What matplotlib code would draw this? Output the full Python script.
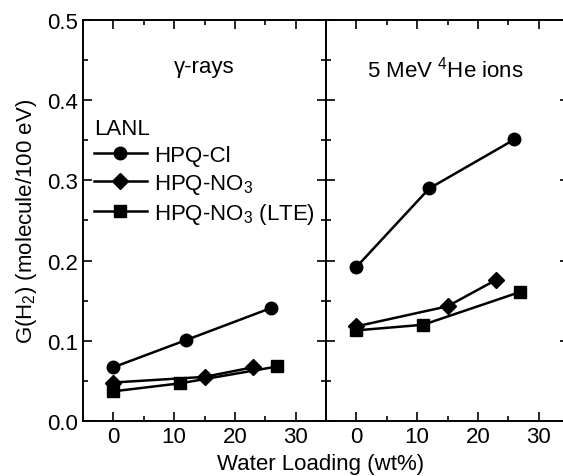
import matplotlib
matplotlib.use("Agg")
import matplotlib.pyplot as plt
from matplotlib.ticker import MultipleLocator

plt.rcParams['font.family'] = ['Liberation Sans', 'DejaVu Sans']
plt.rcParams['mathtext.fontset'] = 'custom'
plt.rcParams['mathtext.rm'] = 'Liberation Sans'

# water loading (wt%) and G(H2) values
gamma_cl_x = [0, 12, 26]
gamma_cl_y = [0.067, 0.101, 0.141]
gamma_no3_x = [0, 15, 23]
gamma_no3_y = [0.048, 0.055, 0.067]
gamma_lte_x = [0, 11, 27]
gamma_lte_y = [0.037, 0.047, 0.068]

he_cl_x = [0, 12, 26]
he_cl_y = [0.192, 0.290, 0.351]
he_no3_x = [0, 15, 23]
he_no3_y = [0.118, 0.143, 0.176]
he_lte_x = [0, 11, 27]
he_lte_y = [0.113, 0.120, 0.161]

fs = 16

fig = plt.figure(figsize=(5.63, 4.77), dpi=100)
W, H = 563, 477
ax1 = fig.add_axes([83 / W, 1 - 422 / H, (326 - 83) / W, (422 - 21) / H])
ax2 = fig.add_axes([326 / W, 1 - 422 / H, (569 - 326) / W, (422 - 21) / H])

style = dict(color='black', lw=1.8, markersize=9)

ax1.plot(gamma_cl_x, gamma_cl_y, marker='o', label='HPQ-Cl', **style)
ax1.plot(gamma_no3_x, gamma_no3_y, marker='D', label='HPQ-NO$_3$', **dict(style, markersize=8))
ax1.plot(gamma_lte_x, gamma_lte_y, marker='s', label='HPQ-NO$_3$ (LTE)', **style)

ax2.plot(he_cl_x, he_cl_y, marker='o', **style)
ax2.plot(he_no3_x, he_no3_y, marker='D', **dict(style, markersize=8))
ax2.plot(he_lte_x, he_lte_y, marker='s', **style)

for ax in (ax1, ax2):
    ax.set_xlim(-5, 35)
    ax.set_ylim(0, 0.5)
    ax.xaxis.set_major_locator(MultipleLocator(10))
    ax.xaxis.set_minor_locator(MultipleLocator(5))
    ax.yaxis.set_major_locator(MultipleLocator(0.1))
    ax.yaxis.set_minor_locator(MultipleLocator(0.05))
    ax.tick_params(which='both', direction='in', top=True, right=True, width=1.2, labelsize=fs)
    ax.tick_params(which='major', length=6.5)
    ax.tick_params(which='minor', length=3.5)
    for sp in ax.spines.values():
        sp.set_linewidth(1.4)

ax1.set_xticks([0, 10, 20, 30])
ax2.set_xticks([0, 10, 20, 30])
ax1.yaxis.set_major_formatter(plt.FormatStrFormatter('%.1f'))
ax2.tick_params(labelleft=False)

ax1.text(0.5, 0.885, '\u03b3-rays', transform=ax1.transAxes, ha='center', va='center', fontsize=fs)
ax2.text(0.49, 0.88, r'5 MeV $^{4}$He ions', transform=ax2.transAxes, ha='center', va='center', fontsize=fs)

leg = ax1.legend(loc='upper left', bbox_to_anchor=(0.035, 0.76), frameon=False, fontsize=fs,
                 title='LANL', title_fontsize=fs, handlelength=2.4, handletextpad=0.3,
                 labelspacing=0.25, borderpad=0.1, borderaxespad=0.0)
leg._legend_box.align = 'left'

ax1.set_ylabel('G(H$_2$) (molecule/100 eV)', fontsize=fs, labelpad=6)
fig.text(321 / W, 1 - 465 / H, 'Water Loading (wt%)', ha='center', va='center', fontsize=fs)

fig.savefig('out.png', dpi=100)
